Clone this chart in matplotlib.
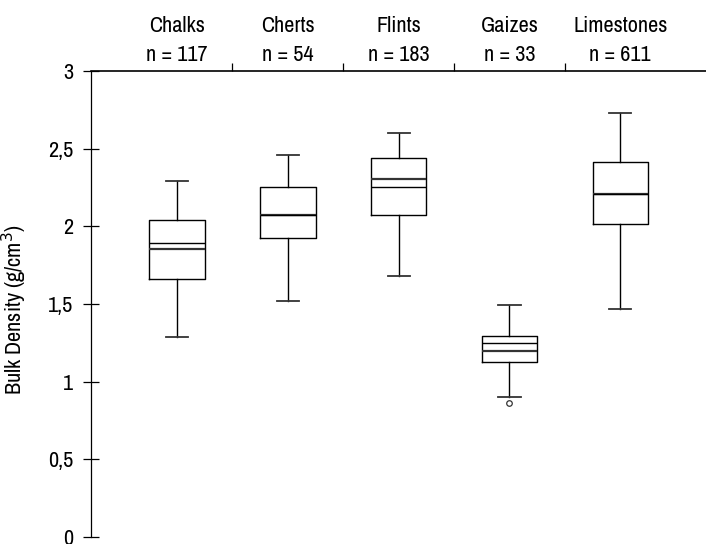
import matplotlib.pyplot as plt
from matplotlib.ticker import FixedLocator, FuncFormatter

plt.rcParams['font.family'] = ['Archivo Narrow', 'Liberation Sans', 'DejaVu Sans']

# rock types and sample counts
rocks = ["Chalks", "Cherts", "Flints", "Gaizes", "Limestones"]
counts = [117, 54, 183, 33, 611]

# box statistics (g/cm3)
whislo = [1.29, 1.52, 1.68, 0.90, 1.47]
q1 = [1.66, 1.925, 2.075, 1.125, 2.015]
medians = [1.855, 2.07, 2.305, 1.20, 2.21]
means = [1.893, 2.075, 2.252, 1.247, 2.205]
q3 = [2.043, 2.254, 2.438, 1.292, 2.417]
whishi = [2.294, 2.46, 2.60, 1.494, 2.728]
fliers = [[], [], [], [0.865], []]

stats = []
for i, name in enumerate(rocks):
    stats.append(dict(label=name, whislo=whislo[i], q1=q1[i], med=medians[i],
                      mean=means[i], q3=q3[i], whishi=whishi[i], fliers=fliers[i]))

fig = plt.figure(figsize=(7.06, 5.44), dpi=100)
ax = fig.add_axes([91 / 706, 1 - 537 / 544, 615 / 706, 466 / 544])

pos = list(range(1, len(rocks) + 1))
ax.bxp(stats, positions=pos, widths=0.5, capwidths=0.2,
       showmeans=True, meanline=True, patch_artist=False,
       boxprops=dict(color='black', linewidth=1.0),
       whiskerprops=dict(color='black', linewidth=1.0),
       capprops=dict(color='#333333', linewidth=1.3),
       medianprops=dict(color='#333333', linewidth=1.6),
       meanprops=dict(color='black', linewidth=1.0, linestyle='-'),
       flierprops=dict(marker='o', markersize=4, markerfacecolor='white',
                       markeredgecolor='#333333', markeredgewidth=0.9))

ax.set_xlim(0.224, 5.774)
ax.set_ylim(0, 3)
ax.set_xticks([])
ax.yaxis.set_major_locator(FixedLocator([0, 0.5, 1, 1.5, 2, 2.5, 3]))
ax.yaxis.set_major_formatter(FuncFormatter(lambda v, p: f"{v:g}".replace('.', ',')))
ax.tick_params(axis='y', direction='inout', length=11, width=0.9, labelsize=16, pad=7.5)
for side in ['right', 'bottom']:
    ax.spines[side].set_visible(False)
ax.spines['left'].set_linewidth(0.9)
ax.spines['top'].set_linewidth(1.2)
ax.set_ylabel("Bulk Density (g/cm$^3$)", fontsize=16)
ax.yaxis.set_label_coords(-0.1008, 0.489)

# category header on top, aligned with the boxes
top = ax.twiny()
top.set_xlim(ax.get_xlim())
top.set_xticks(pos)
top.set_xticklabels([f"{r}\nn = {n}" for r, n in zip(rocks, counts)],
                    fontsize=16, linespacing=1.6)
top.set_xticks([p + 0.5 for p in pos[:-1]], minor=True)
top.tick_params(axis='x', which='major', length=0, pad=4)
top.tick_params(axis='x', which='minor', direction='out', length=6, width=0.9)
for side in ['right', 'bottom', 'left', 'top']:
    top.spines[side].set_visible(False)

fig.savefig("out.png", dpi=100)
